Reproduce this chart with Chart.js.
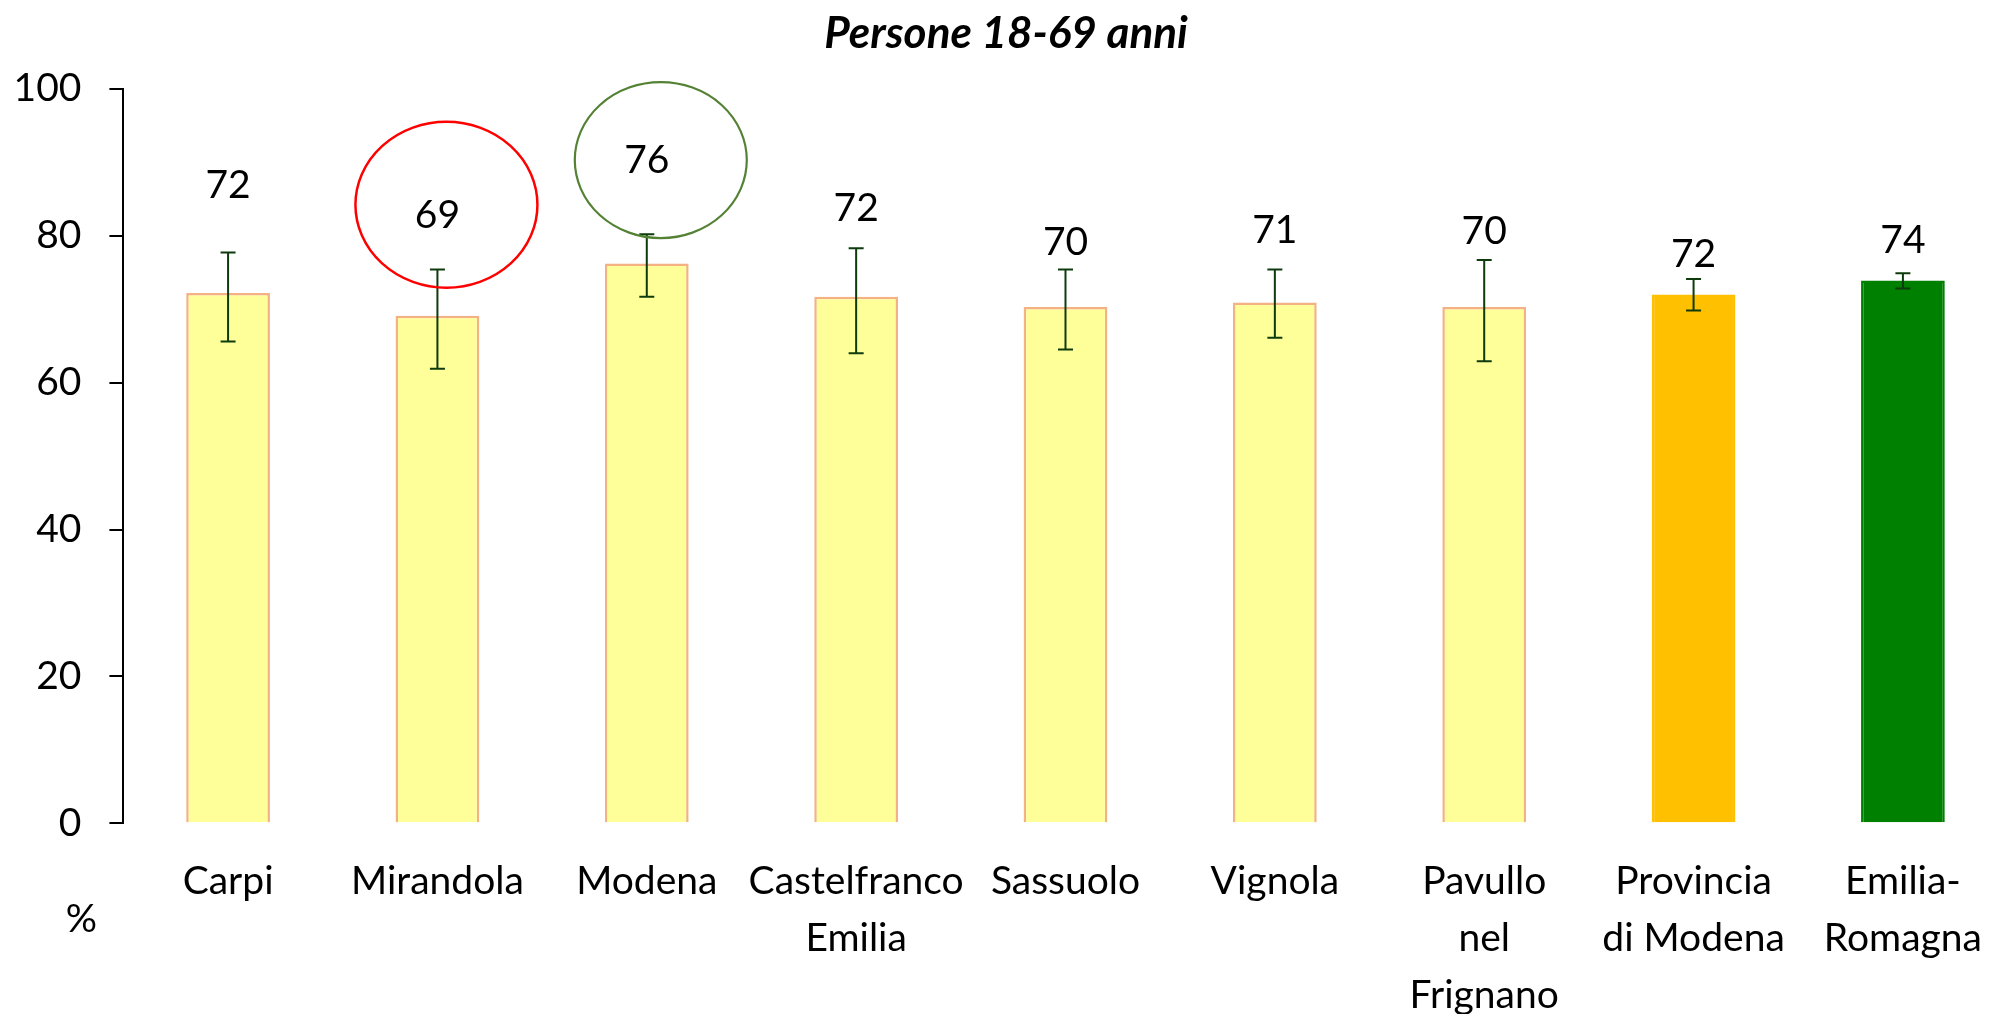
<!DOCTYPE html>
<html lang="it">
<head>
<meta charset="utf-8">
<title>Persone 18-69 anni</title>
<script src="https://cdn.jsdelivr.net/npm/chart.js@4.4.1/dist/chart.umd.min.js"></script>
<style>
  html, body { margin: 0; padding: 0; background: #fff; overflow: hidden; }
  canvas { display: block; }
</style>
</head>
<body>
<canvas id="grafico" width="2012" height="1014"></canvas>
<script>
// aree territoriali (etichette su più righe dove serve)
var aree = ['Carpi', 'Mirandola', 'Modena', ['Castelfranco', 'Emilia'], 'Sassuolo', 'Vignola',
    ['Pavullo', 'nel', 'Frignano'], ['Provincia', 'di Modena'], ['Emilia-', 'Romagna']];

// prevalenza % e intervalli di confidenza
var valori = [72.2, 69.1, 76.2, 71.7, 70.3, 70.9, 70.3, 72.0, 73.9];
var limInf = [65.6, 61.9, 71.7, 64.0, 64.5, 66.1, 62.9, 69.8, 72.8];
var limSup = [77.7, 75.4, 80.2, 78.3, 75.4, 75.4, 76.7, 74.1, 74.9];

var tickY = [0, 20, 40, 60, 80, 100];

// stile
var FONT = 'Lato';
var giallo = '#FFFF99', bordoGiallo = '#F4B183';
var coloriBarre = [giallo, giallo, giallo, giallo, giallo, giallo, giallo, '#FFC000', '#008000'];
var bordiBarre = [bordoGiallo, bordoGiallo, bordoGiallo, bordoGiallo, bordoGiallo, bordoGiallo, bordoGiallo, '#FFC000', '#008000'];
var coloreErrore = '#0d3b0d';
// distanza in px tra cima della barra e centro dell'etichetta
var spostEtichette = [108, 100, 103, 88, 65, 72, 76, 40, 40];
// ellissi di evidenza attorno alle etichette
var cerchi = [
    { i: 1, colore: '#FF0000', spessore: 2.5, dx: 9, dy: -11, rx: 91, ry: 83 },
    { i: 2, colore: '#548235', spessore: 2.2, dx: 14, dy: -0.5, rx: 86, ry: 78 }
];

var extra = {
    id: 'extra',
    afterDatasetsDraw: function (chart) {
        var ctx = chart.ctx;
        var y = chart.scales.y;
        var barre = chart.getDatasetMeta(0).data;
        ctx.save();

        // barre d'errore
        ctx.strokeStyle = coloreErrore;
        ctx.lineWidth = 2;
        barre.forEach(function (b, i) {
            var yi = y.getPixelForValue(limInf[i]);
            var ys = y.getPixelForValue(limSup[i]);
            ctx.beginPath();
            ctx.moveTo(b.x, yi); ctx.lineTo(b.x, ys);
            ctx.moveTo(b.x - 7.5, yi); ctx.lineTo(b.x + 7.5, yi);
            ctx.moveTo(b.x - 7.5, ys); ctx.lineTo(b.x + 7.5, ys);
            ctx.stroke();
        });

        // etichette dei valori
        ctx.fillStyle = '#000';
        ctx.font = '39px ' + FONT;
        ctx.textAlign = 'center';
        ctx.textBaseline = 'middle';
        barre.forEach(function (b, i) {
            ctx.fillText(valori[i].toFixed(0), b.x, b.y - spostEtichette[i]);
        });

        // ellissi
        cerchi.forEach(function (c) {
            var b = barre[c.i];
            ctx.strokeStyle = c.colore;
            ctx.lineWidth = c.spessore;
            ctx.beginPath();
            ctx.ellipse(b.x + c.dx, b.y - spostEtichette[c.i] + c.dy, c.rx, c.ry, 0, 0, Math.PI * 2);
            ctx.stroke();
        });

        // unità di misura
        ctx.fillStyle = '#000';
        ctx.fillText('%', chart.chartArea.left - 42, chart.chartArea.bottom + 96);
        ctx.restore();
    }
};

var ctx = document.getElementById('grafico').getContext('2d');
var grafico = new Chart(ctx, {
    type: 'bar',
    data: {
        labels: aree,
        datasets: [{
            data: valori,
            backgroundColor: coloriBarre,
            borderColor: bordiBarre,
            borderWidth: 2.5,
            barPercentage: 0.4,
            categoryPercentage: 1
        }]
    },
    options: {
        responsive: false,
        animation: false,
        devicePixelRatio: 1,
        layout: { padding: 0 },
        plugins: {
            legend: { display: false },
            tooltip: { enabled: false },
            title: {
                display: true,
                text: 'Persone 18-69 anni',
                color: '#000',
                font: { family: FONT, size: 44, weight: 'bold', style: 'italic', lineHeight: 1.2 },
                padding: { top: 7, bottom: 29 }
            }
        },
        scales: {
            x: {
                grid: { display: false, drawTicks: false },
                border: { display: false },
                ticks: {
                    color: '#000',
                    font: { family: FONT, size: 39, lineHeight: '57px' },
                    padding: 30,
                    maxRotation: 0,
                    autoSkip: false
                },
                afterFit: function (scale) { scale.height = 190.7; }
            },
            y: {
                min: 0,
                max: 100,
                afterBuildTicks: function (scale) {
                    scale.ticks = tickY.map(function (v) { return { value: v }; });
                },
                grid: { drawOnChartArea: false, drawTicks: true, tickLength: 14, color: '#000', lineWidth: 2 },
                border: { display: true, color: '#000', width: 2 },
                ticks: {
                    color: '#000',
                    font: { family: FONT, size: 39 },
                    padding: 28
                },
                afterFit: function (scale) { scale.width = 123.4; }
            }
        }
    },
    plugins: [extra]
});
</script>
</body>
</html>
